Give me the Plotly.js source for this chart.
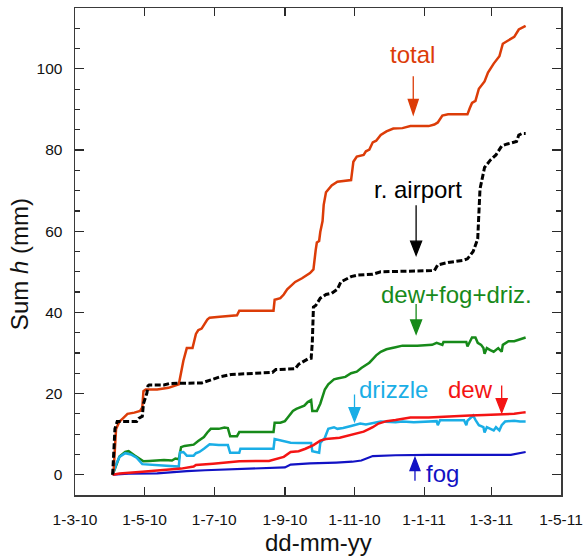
<!DOCTYPE html>
<html>
<head>
<meta charset="utf-8">
<script src="https://cdn.plot.ly/plotly-3.0.1.min.js"></script>
<style>
  html, body { margin: 0; padding: 0; background: #fff; }
  #chart { width: 584px; height: 560px; }
</style>
</head>
<body>
<div id="chart"></div>
<script>
// Cumulative water sums (mm), April 2010 - March 2011

const tickDates  = ['2010-03-01', '2010-05-01', '2010-07-01', '2010-09-01', '2010-11-01', '2011-01-01', '2011-03-01', '2011-05-01'];
const tickLabels = ['1-3-10', '1-5-10', '1-7-10', '1-9-10', '1-11-10', '1-1-11', '1-3-11', '1-5-11'];

// total
const totalDates = ['2010-04-03','2010-04-04','2010-04-06','2010-04-09','2010-04-12','2010-04-16','2010-04-22','2010-04-27','2010-04-29','2010-04-30',
  '2010-05-02','2010-05-12','2010-05-22','2010-05-28','2010-05-31','2010-06-04','2010-06-07','2010-06-12','2010-06-15','2010-06-17',
  '2010-06-20','2010-06-25','2010-06-27','2010-07-06','2010-07-21','2010-07-23','2010-08-22','2010-08-23','2010-08-28','2010-08-31',
  '2010-09-03','2010-09-10','2010-09-16','2010-09-23','2010-09-26','2010-09-28','2010-09-29','2010-10-01','2010-10-02','2010-10-04',
  '2010-10-05','2010-10-07','2010-10-12','2010-10-17','2010-10-29','2010-10-31','2010-11-03','2010-11-09','2010-11-11','2010-11-14',
  '2010-11-17','2010-11-20','2010-11-24','2010-11-29','2010-12-05','2010-12-13','2010-12-20','2011-01-05','2011-01-10','2011-01-13',
  '2011-01-17','2011-01-22','2011-02-08','2011-02-10','2011-02-12','2011-02-15','2011-02-18','2011-02-23','2011-02-26','2011-03-03',
  '2011-03-08','2011-03-11','2011-03-16','2011-03-21','2011-03-25','2011-03-28','2011-03-31'];
const totalSum = [0, 1.6, 11.3, 13.1, 13.9, 15.0, 15.3, 15.7, 16.6, 20.6,
  21.0, 21.0, 21.4, 21.9, 22.3, 28.1, 31.2, 31.2, 34.7, 35.6,
  36.0, 38.2, 38.7, 38.9, 39.3, 40.4, 40.4, 43.1, 43.5, 44.4,
  45.7, 47.5, 48.4, 49.7, 50.6, 55.4, 57.2, 57.6, 59.8, 62.5,
  66.5, 69.6, 71.3, 72.2, 72.6, 77.1, 78.4, 78.8, 79.7, 80.1,
  81.9, 82.3, 83.7, 84.6, 85.3, 85.4, 85.9, 85.9, 86.3, 86.8,
  88.5, 88.8, 88.8, 90.3, 91.6, 92.1, 95.1, 96.9, 99.1, 101.3,
  103.1, 106.2, 107.1, 107.9, 109.7, 110.2, 110.6];

// rain gauge at the airport
const airportDates = ['2010-04-03','2010-04-04','2010-04-05','2010-04-07','2010-04-24','2010-04-26','2010-04-29','2010-04-30','2010-05-03','2010-05-04',
  '2010-05-05','2010-05-18','2010-05-23','2010-06-20','2010-06-27','2010-07-06','2010-07-16','2010-08-05','2010-08-21','2010-08-24',
  '2010-09-10','2010-09-13','2010-09-21','2010-09-24','2010-09-25','2010-09-26','2010-09-28','2010-10-02','2010-10-07','2010-10-12',
  '2010-10-17','2010-10-20','2010-10-29','2010-11-04','2010-11-17','2010-11-24','2011-01-10','2011-01-13','2011-01-22','2011-02-04',
  '2011-02-08','2011-02-13','2011-02-17','2011-02-18','2011-02-19','2011-02-23','2011-02-28','2011-03-05','2011-03-10','2011-03-15',
  '2011-03-23','2011-03-25','2011-03-28','2011-03-31'];
const airportSum = [0, 6.9, 11.3, 13.1, 13.1, 13.9, 14.4, 17.5, 20.1, 21.9,
  22.1, 22.1, 22.5, 22.6, 23.2, 24.1, 24.7, 24.9, 25.2, 25.9,
  26.1, 27.2, 28.5, 28.7, 32.5, 41.3, 41.7, 43.5, 44.4, 44.7,
  45.7, 47.5, 48.8, 49.2, 49.4, 50.0, 50.3, 51.7, 52.3, 52.8,
  53.2, 55.0, 58.1, 64.3, 70.4, 75.7, 77.5, 78.8, 81.0, 81.5,
  82.1, 83.7, 84.1, 84.1];

// dew + fog + drizzle
const dfdDates = ['2010-04-03','2010-04-06','2010-04-09','2010-04-14','2010-04-17','2010-04-22','2010-04-27','2010-04-30','2010-05-05','2010-05-18',
  '2010-05-25','2010-05-28','2010-05-31','2010-06-02','2010-06-05','2010-06-13','2010-06-17','2010-06-22','2010-06-25','2010-06-28',
  '2010-07-05','2010-07-10','2010-07-13','2010-07-15','2010-07-21','2010-07-23','2010-08-22','2010-08-23','2010-08-28','2010-09-01',
  '2010-09-03','2010-09-08','2010-09-11','2010-09-15','2010-09-18','2010-09-21','2010-09-24','2010-09-25','2010-09-29','2010-10-02',
  '2010-10-06','2010-10-09','2010-10-14','2010-10-17','2010-10-24','2010-10-29','2010-11-03','2010-11-07','2010-11-14','2010-11-17',
  '2010-11-20','2010-11-24','2010-11-29','2010-12-07','2010-12-13','2010-12-26','2011-01-08','2011-01-12','2011-01-17','2011-01-18',
  '2011-02-07','2011-02-08','2011-02-10','2011-02-12','2011-02-15','2011-02-17','2011-02-20','2011-02-22','2011-02-23','2011-02-25',
  '2011-02-28','2011-03-03','2011-03-07','2011-03-10','2011-03-11','2011-03-16','2011-03-21','2011-03-26','2011-03-31'];
const dfdSum = [0, 2.5, 4.5, 5.6, 5.8, 4.8, 3.8, 3.3, 3.4, 3.6,
  3.5, 4.0, 3.8, 6.8, 7.1, 7.4, 8.3, 9.3, 10.4, 11.3,
  11.3, 11.6, 11.5, 9.5, 9.5, 10.5, 10.5, 12.8, 12.8, 13.2,
  13.9, 15.7, 16.2, 16.6, 17.0, 17.9, 18.4, 15.7, 15.7, 17.5,
  21.0, 22.3, 23.5, 23.7, 24.1, 25.0, 25.4, 26.3, 27.6, 28.5,
  29.4, 30.3, 30.9, 31.4, 31.8, 31.8, 32.0, 32.5, 32.0, 32.7,
  32.7, 31.6, 32.7, 33.8, 33.8, 32.5, 32.0, 31.2, 29.8, 31.2,
  30.7, 30.3, 31.2, 30.3, 32.0, 32.9, 32.9, 33.4, 33.8];

// drizzle
const drizzleDates = ['2010-04-03','2010-04-06','2010-04-09','2010-04-14','2010-04-19','2010-04-24','2010-04-29','2010-05-05','2010-05-18','2010-05-28',
  '2010-05-31','2010-06-01','2010-06-04','2010-06-07','2010-06-13','2010-06-15','2010-06-18','2010-06-22','2010-06-27','2010-07-05',
  '2010-07-13','2010-07-15','2010-07-23','2010-07-24','2010-08-22','2010-08-23','2010-08-31','2010-09-06','2010-09-13','2010-09-24',
  '2010-09-25','2010-10-01','2010-10-02','2010-10-06','2010-10-09','2010-10-14','2010-10-17','2010-10-22','2010-10-29','2010-11-03',
  '2010-11-06','2010-11-11','2010-11-17','2010-11-24','2010-12-07','2010-12-13','2010-12-23','2011-01-02','2011-01-12','2011-01-13',
  '2011-01-15','2011-02-05','2011-02-07','2011-02-08','2011-02-13','2011-02-15','2011-02-18','2011-02-22','2011-02-23','2011-02-25',
  '2011-02-28','2011-03-03','2011-03-05','2011-03-08','2011-03-10','2011-03-13','2011-03-21','2011-03-26','2011-03-31'];
const drizzleSum = [0, 2.5, 4.4, 5.3, 5.0, 4.2, 2.6, 2.5, 2.3, 2.2,
  2.0, 5.5, 5.6, 4.7, 4.7, 5.3, 5.6, 6.4, 7.5, 7.3,
  7.3, 5.4, 5.4, 6.4, 6.4, 8.8, 8.2, 7.9, 7.8, 7.8,
  5.8, 5.4, 7.8, 9.1, 11.3, 11.7, 11.3, 11.5, 12.0, 12.4,
  12.6, 12.4, 12.8, 13.1, 12.9, 13.1, 12.9, 13.1, 13.2, 12.2,
  13.4, 13.4, 12.2, 13.3, 14.6, 13.5, 12.2, 11.7, 10.4, 11.7,
  11.3, 10.9, 11.7, 10.9, 12.2, 13.1, 13.3, 13.1, 13.1];

// dew
const dewDates = ['2010-04-03','2010-04-09','2010-04-29','2010-05-18','2010-06-02','2010-06-13','2010-06-15','2010-06-30','2010-07-10','2010-07-23',
  '2010-08-18','2010-08-24','2010-08-31','2010-09-06','2010-09-13','2010-09-19','2010-09-26','2010-10-02','2010-10-07','2010-10-19',
  '2010-10-25','2010-11-03','2010-11-09','2010-11-14','2010-11-17','2010-11-22','2010-11-29','2010-12-07','2010-12-13','2010-12-20',
  '2011-01-05','2011-01-22','2011-02-10','2011-02-23','2011-03-11','2011-03-21','2011-03-28','2011-03-31'];
const dewSum = [0, 0.3, 0.7, 1.1, 1.5, 2.0, 2.4, 2.7, 2.9, 3.3,
  3.4, 3.8, 4.4, 5.6, 5.8, 6.4, 7.3, 8.4, 8.8, 9.1,
  9.5, 10.2, 10.6, 11.3, 11.7, 12.6, 13.2, 13.5, 13.8, 14.1,
  14.1, 14.4, 14.6, 14.7, 14.9, 15.0, 15.3, 15.4];

// fog
const fogDates = ['2010-04-03','2010-04-17','2010-05-12','2010-05-18','2010-06-07','2010-06-23','2010-07-26','2010-08-11','2010-09-01','2010-09-06',
  '2010-09-23','2010-10-16','2010-10-30','2010-11-07','2010-11-14','2010-11-17','2010-12-07','2011-01-05','2011-03-18','2011-03-31'];
const fogSum = [0, 0.25, 0.35, 0.5, 0.9, 1.1, 1.4, 1.6, 1.8, 2.5,
  2.8, 3.0, 3.2, 3.5, 4.2, 4.6, 4.8, 4.9, 4.9, 5.6];

const FONT = 'Liberation Sans, Arial, Helvetica, sans-serif';
const C = {
  total: '#dc3c08',
  airport: '#000000',
  dfd: '#178a1a',
  drizzle: '#1aaee6',
  dew: '#f41414',
  fog: '#1212c4'
};

function line(x, y, color, width, dash) {
  return {
    type: 'scatter', mode: 'lines', x: x, y: y,
    line: { color: color, width: width, dash: dash || 'solid', shape: 'linear' },
    hoverinfo: 'skip'
  };
}

const traces = [
  line(fogDates, fogSum, C.fog, 2.2),
  line(dfdDates, dfdSum, C.dfd, 2.5),
  line(drizzleDates, drizzleSum, C.drizzle, 2.5),
  line(dewDates, dewSum, C.dew, 2.5),
  line(totalDates, totalSum, C.total, 2.5),
  line(airportDates, airportSum, C.airport, 3, '6px,2.5px')
];

// series labels
const labels = [
  { text: 'total',          color: C.total,   x: '2010-12-21 12:00', y: 103.6 },
  { text: 'r. airport',     color: C.airport, x: '2010-12-27',       y: 70.4 },
  { text: 'dew+fog+driz.',  color: C.dfd,     x: '2011-01-29',       y: 44.4 },
  { text: 'drizzle',        color: C.drizzle, x: '2010-12-05',       y: 21.0 },
  { text: 'dew',            color: C.dew,     x: '2011-02-11',       y: 21.0 },
  { text: 'fog',            color: C.fog,     x: '2011-01-17',       y: 0.2 }
];

// pointer arrows: tip position, shaft length (px), head length/half-width (px), direction
const pointers = [
  { color: C.total,   x: '2010-12-22 12:00', y: 88.8, len: 38, head: 15, half: 5,   dir: -1 },
  { color: C.airport, x: '2010-12-25',       y: 54.1, len: 50, head: 14, half: 5.5, dir: -1 },
  { color: C.dfd,     x: '2010-12-25',       y: 34.7, len: 30, head: 14, half: 5.5, dir: -1 },
  { color: C.drizzle, x: '2010-11-01',       y: 13.1, len: 27, head: 14, half: 5.5, dir: -1 },
  { color: C.dew,     x: '2011-03-10',       y: 15.3, len: 27, head: 14, half: 5.5, dir: -1 },
  { color: C.fog,     x: '2010-12-24',       y: 4.2,  len: 23, head: 13, half: 5,   dir: 1 }
];

const shapes = pointers.map(p => {
  // pixel-sized path anchored at the tip; positive y points up
  const s = -p.dir; // +1: arrow points down (shaft above tip)
  const L = s * p.len, H = s * p.head;
  const path = 'M0,' + L + 'L0,' + (H * 0.8) +
               'M' + (-p.half) + ',' + H + 'L' + p.half + ',' + H + 'L0,0Z';
  return {
    type: 'path', xref: 'x', yref: 'y',
    xsizemode: 'pixel', ysizemode: 'pixel',
    xanchor: p.x, yanchor: p.y,
    path: path,
    fillcolor: p.color,
    line: { color: p.color, width: 1.3 },
    layer: 'above'
  };
});

const annotations = labels.map(l => ({
  xref: 'x', yref: 'y', x: l.x, y: l.y,
  text: l.text, showarrow: false,
  xanchor: 'center', yanchor: 'middle',
  font: { family: FONT, size: 24, color: l.color }
}));

// axis titles
annotations.push({
  xref: 'paper', yref: 'paper', x: 0.5, y: -0.098,
  text: 'dd-mm-yy', showarrow: false, xanchor: 'center', yanchor: 'middle',
  font: { family: FONT, size: 24, color: '#111' }
});
annotations.push({
  xref: 'paper', yref: 'paper', x: -0.1153, y: 0.474,
  text: 'Sum <i>h</i> (mm)', showarrow: false, textangle: -90,
  xanchor: 'center', yanchor: 'middle',
  font: { family: FONT, size: 24, color: '#111' }
});

const axisCommon = {
  showline: true, linecolor: '#3a3a3a', linewidth: 1.5,
  mirror: 'ticks', ticks: 'inside', tickcolor: '#2a2a2a', tickwidth: 1.2,
  showgrid: false, zeroline: false, fixedrange: true,
  tickfont: { family: FONT, size: 15.5, color: '#111' }
};

const layout = {
  width: 584, height: 560,
  margin: { l: 74.5, r: 23, t: 8, b: 65, pad: 0 },
  paper_bgcolor: '#ffffff', plot_bgcolor: '#ffffff',
  showlegend: false,
  font: { family: FONT, size: 15.5, color: '#111' },
  xaxis: Object.assign({}, axisCommon, {
    type: 'date',
    range: ['2010-03-01', '2011-05-01'],
    tickmode: 'array', tickvals: tickDates, ticktext: tickLabels,
    ticklen: 8, ticklabelstandoff: 10
  }),
  yaxis: Object.assign({}, axisCommon, {
    range: [-5, 115],
    tickmode: 'linear', tick0: 0, dtick: 20,
    ticklen: 9, ticklabelstandoff: 8,
    minor: { tick0: 0, dtick: 5, ticks: 'inside', ticklen: 5, tickcolor: '#2a2a2a', tickwidth: 1.2, showgrid: false }
  }),
  shapes: shapes,
  annotations: annotations
};

Plotly.newPlot('chart', traces, layout, { displayModeBar: false, staticPlot: true });
</script>
</body>
</html>
